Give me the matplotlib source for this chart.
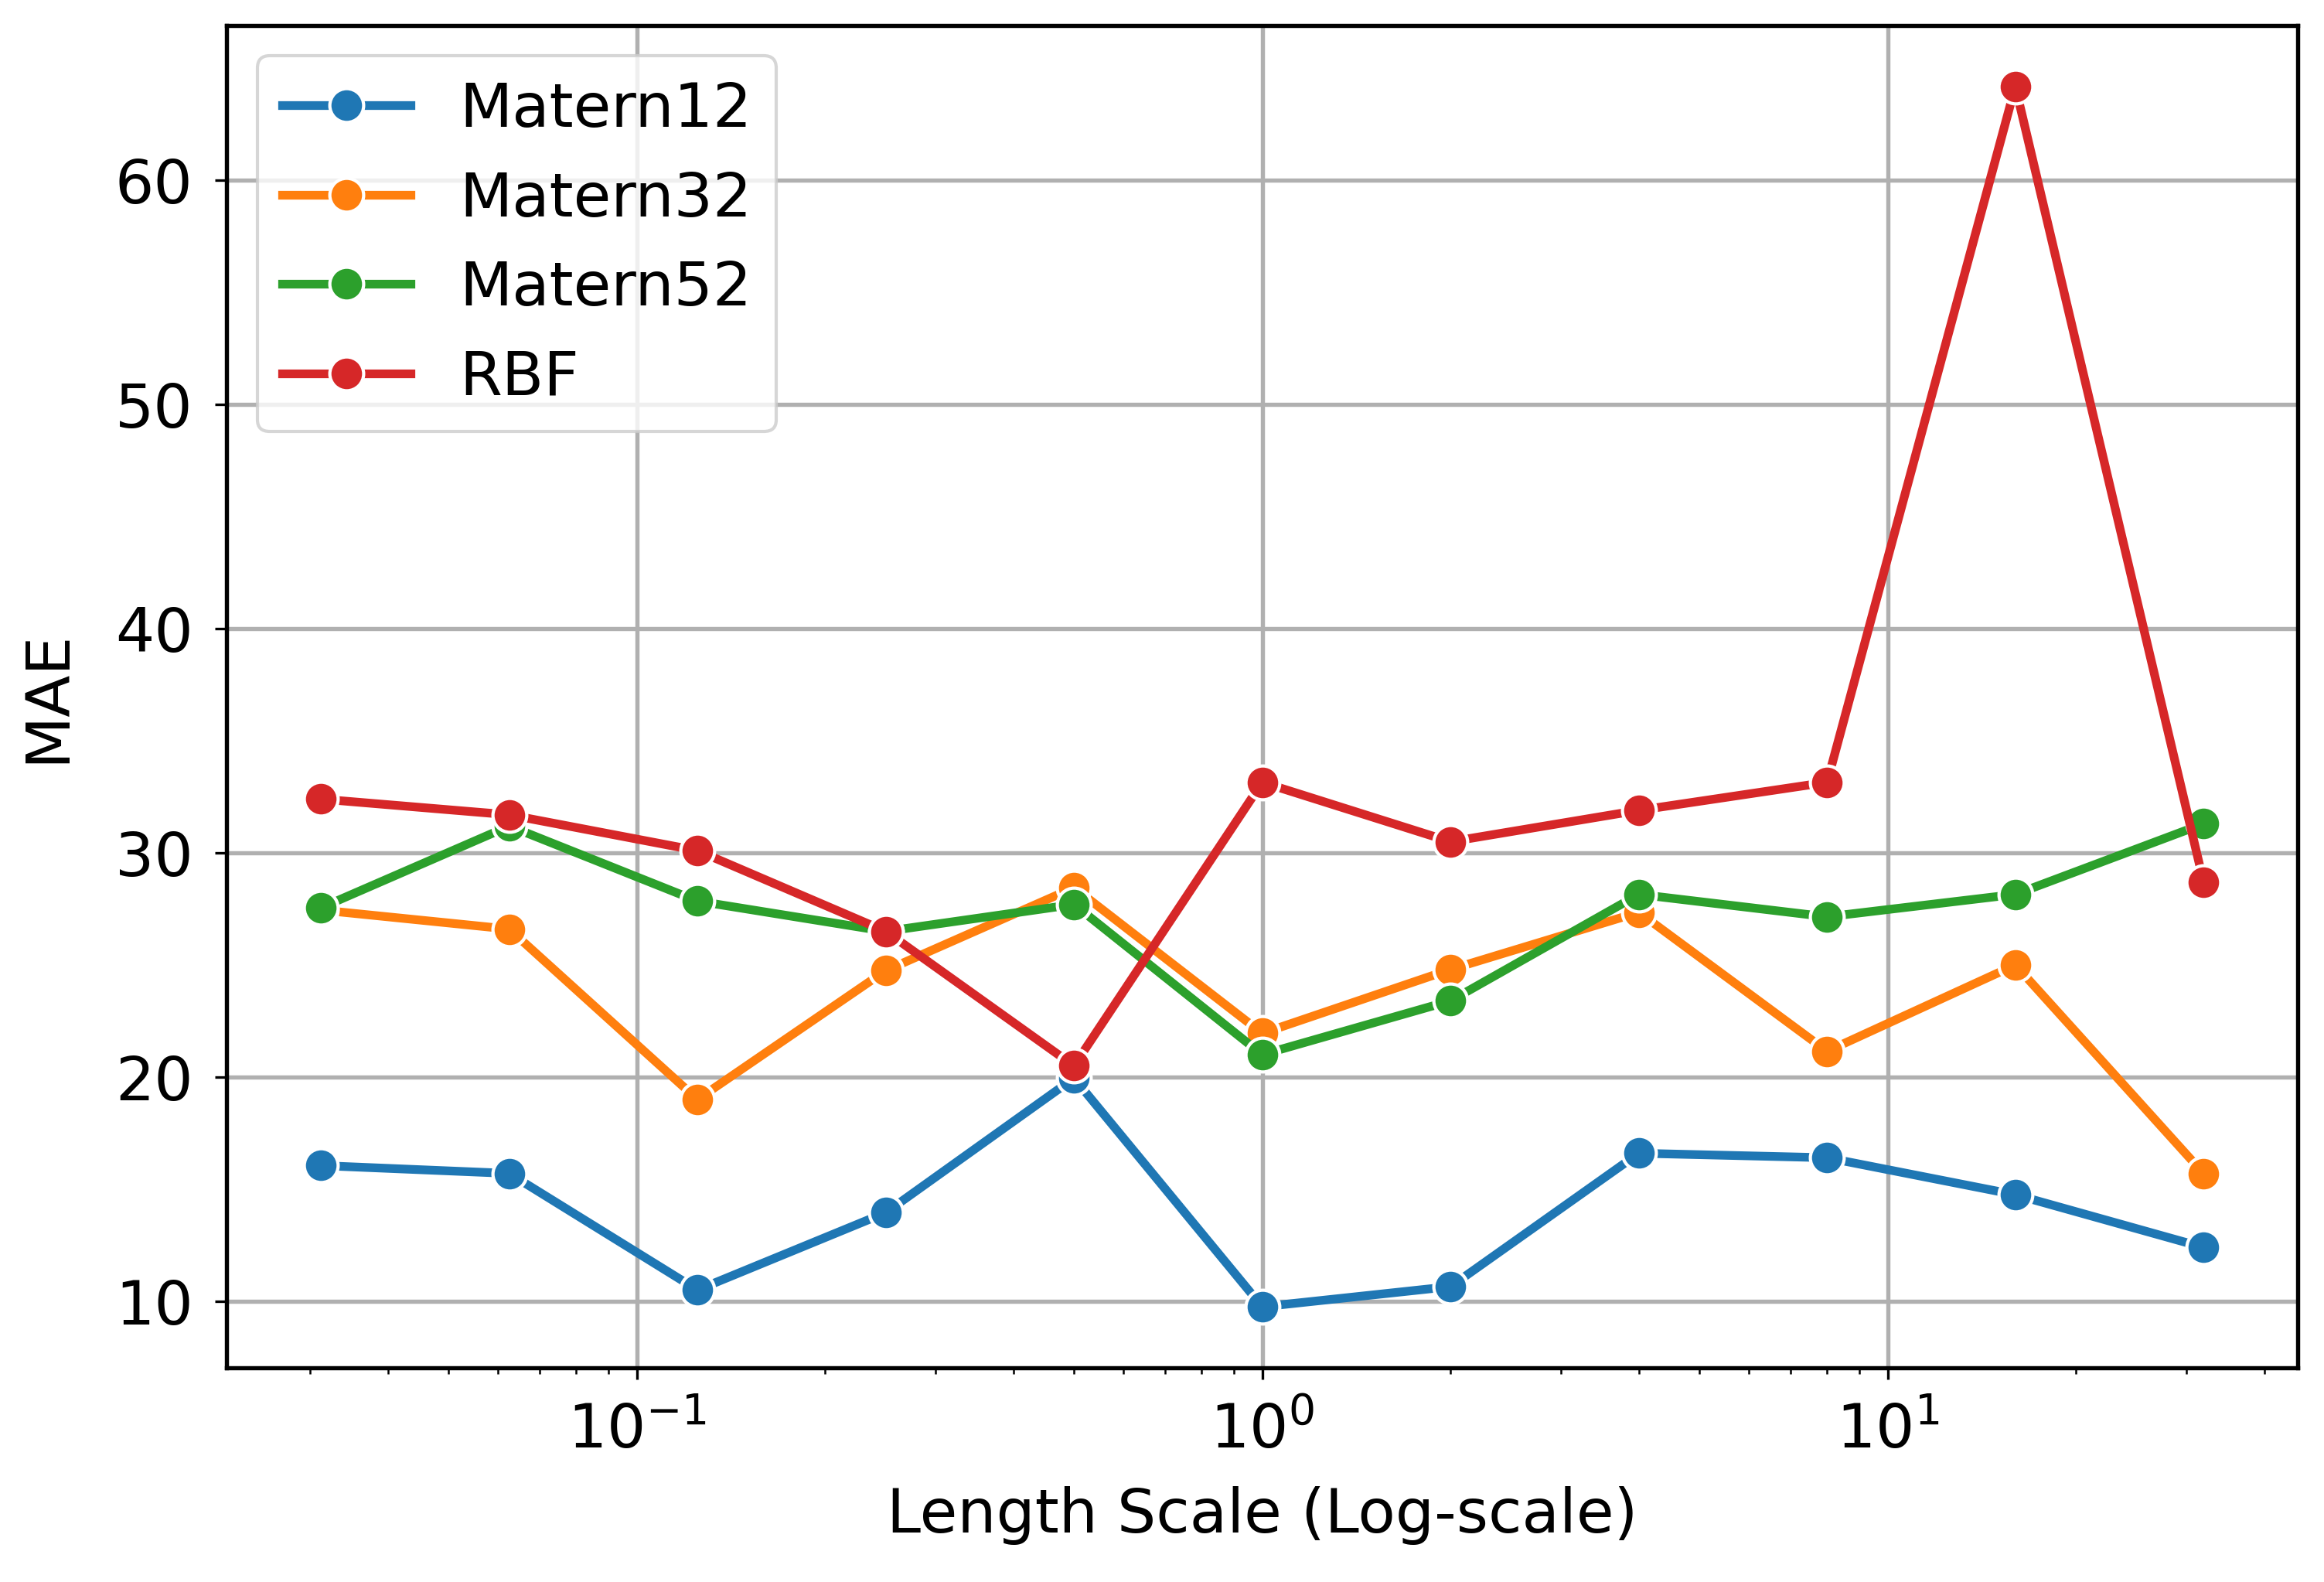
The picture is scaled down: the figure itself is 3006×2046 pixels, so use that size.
import matplotlib
matplotlib.use("Agg")
import matplotlib.pyplot as plt

length_scales = [0.03125, 0.0625, 0.125, 0.25, 0.5, 1, 2, 4, 8, 16, 32]
matern12 = [16.05, 15.7, 10.5, 13.95, 19.95, 9.75, 10.65, 16.6, 16.4, 14.75, 12.4]
matern32 = [27.45, 26.6, 19.0, 24.75, 28.45, 21.95, 24.8, 27.35, 21.15, 25.0, 15.7]
matern52 = [27.55, 31.2, 27.85, 26.5, 27.7, 21.0, 23.4, 28.15, 27.15, 28.15, 31.3]
rbf = [32.4, 31.7, 30.1, 26.5, 20.5, 33.15, 30.5, 31.9, 33.15, 64.2, 28.7]

series = [("Matern12", matern12, "#1f77b4"),
          ("Matern32", matern32, "#ff7f0e"),
          ("Matern52", matern52, "#2ca02c"),
          ("RBF", rbf, "#d62728")]

fig = plt.figure(figsize=(10.02, 6.82), dpi=300)
ax = fig.add_axes([0.0976, 0.1354, 0.8911, 0.8486])

for name, vals, col in series:
    ax.plot(length_scales, vals, marker="o", color=col, linewidth=2.7,
            markersize=10.5, markeredgecolor="white", markeredgewidth=1.0,
            label=name)

ax.set_xscale("log")
ax.grid(True, which="major", color="#b0b0b0", linewidth=1.3)
ax.set_axisbelow(True)
ax.set_yticks([10, 20, 30, 40, 50, 60])
ax.tick_params(axis="both", which="major", labelsize=19, pad=7)
ax.set_xlabel("Length Scale (Log-scale)", fontsize=19, labelpad=8)
ax.set_ylabel("MAE", fontsize=19, labelpad=12)
for s in ax.spines.values():
    s.set_linewidth(1.3)
ax.legend(loc="upper left", fontsize=19, handlelength=2.1)

fig.savefig("out.png", dpi=300)
